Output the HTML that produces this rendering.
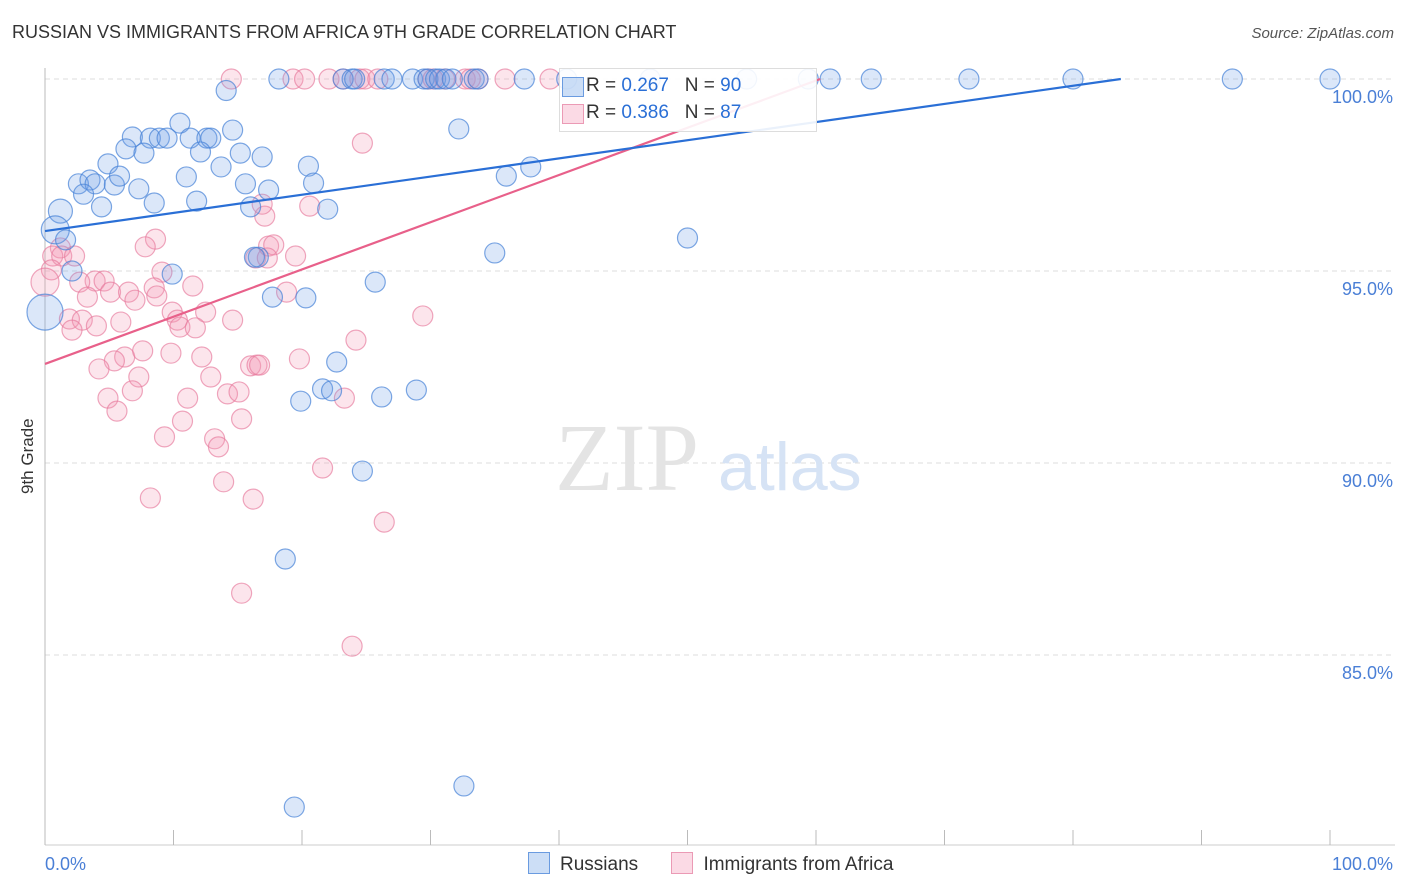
<!DOCTYPE html>
<html><head><meta charset="utf-8">
<style>
body{margin:0;background:#fff;font-family:"Liberation Sans",sans-serif;}
#wrap{position:relative;width:1406px;height:892px;overflow:hidden;}
.t{position:absolute;white-space:nowrap;}
</style></head>
<body>
<div id="wrap">
<div class="t" style="left:12px;top:22px;font-size:18px;color:#333;">RUSSIAN VS IMMIGRANTS FROM AFRICA 9TH GRADE CORRELATION CHART</div>
<div class="t" style="right:12px;top:25px;font-size:15px;color:#555;font-style:italic;">Source: ZipAtlas.com</div>
<div class="t" style="left:18px;font-size:17px;color:#333;transform:rotate(-90deg);transform-origin:left top;top:494px;">9th Grade</div>
<svg id="svg" width="1406" height="892" style="position:absolute;left:0;top:0"></svg>
</div>
<script>
const yTicks=[100,95,90,85];
const yTickLabels=["100.0%","95.0%","90.0%","85.0%"];
const blueX=[18.2,23.2,23.9,24.1,26.4,27.0,28.6,29.5,29.8,30.4,30.7,31.2,31.7,33.4,33.7,37.3,40.6,47.1,54.6,59.4,61.1,64.3,71.9,80.0,92.4,100,14.1,
10.5,6.8,8.2,8.9,9.5,11.3,12.6,12.9,14.6,6.3,7.7,12.1,15.2,16.9,4.9,13.7,20.5,32.2,2.6,3.5,3.9,5.4,5.8,7.3,11.0,15.6,17.4,20.9,3.0,4.4,8.5,11.8,16.0,22.0,35.9,37.8,1.2,0.8,1.6,2.1,9.9,16.6,16.3,35.0,50.0,25.7,17.7,20.3,0,22.7,21.6,22.3,19.9,26.2,28.9,24.7,18.7,19.4,32.6];
const blueY=[100,100,100,100,100,100,100,100,100,100,100,100,100,100,100,100,100,100,100,100,100,100,100,100,100,100,99.7,
98.85,98.49,98.46,98.46,98.46,98.46,98.46,98.46,98.67,98.18,98.07,98.10,98.07,97.97,97.79,97.71,97.73,98.70,97.27,97.37,97.27,97.24,97.47,97.14,97.45,97.27,97.11,97.29,97.0,96.67,96.77,96.82,96.67,96.61,97.47,97.71,96.56,96.07,95.81,95.0,94.92,95.36,95.36,95.47,95.86,94.71,94.32,94.30,93.93,92.63,91.93,91.88,91.61,91.72,91.90,89.79,87.5,81.04,81.59];
const pinkX=[14.5,19.3,20.2,22.1,23.2,24.5,24.9,25.9,29.8,30.2,31.1,32.7,33.1,33.7,35.8,39.3,24.7,
17.1,16.9,20.6,8.6,7.8,1.2,0.6,1.3,2.3,0.5,0,9.1,3.9,2.7,4.6,3.3,5.1,6.5,7.0,8.5,8.7,11.5,9.9,10.3,12.5,14.6,16.4,17.4,17.8,19.5,18.8,17.3,29.4,1.9,2.9,4.0,2.1,5.9,10.5,11.7,24.2,6.2,5.4,7.6,9.8,12.2,16.0,16.5,4.2,7.3,12.9,19.8,6.8,4.9,11.1,14.2,15.1,5.6,10.7,15.3,9.3,13.2,13.5,8.2,13.9,16.2,21.6,26.4,15.3,23.9,23.3,16.7];
const pinkY=[100,100,100,100,100,100,100,100,100,100,100,100,100,100,100,100,98.33,
96.43,96.74,96.69,95.83,95.63,95.6,95.39,95.39,95.39,95.03,94.71,94.97,94.74,94.71,94.74,94.32,94.45,94.45,94.24,94.56,94.35,94.61,93.93,93.72,93.93,93.72,95.34,95.65,95.68,95.39,94.45,95.34,93.83,93.75,93.72,93.57,93.46,93.67,93.54,93.52,93.2,92.76,92.66,92.92,92.86,92.76,92.53,92.55,92.45,92.24,92.24,92.71,91.88,91.69,91.69,91.8,91.85,91.35,91.09,91.15,90.68,90.63,90.42,89.09,89.51,89.06,89.87,88.46,86.61,85.23,91.69,92.55];
const blueTrend=[96.04,0.0473];
const pinkTrend=[92.58,0.123];

const NS="http://www.w3.org/2000/svg";
const svg=document.getElementById('svg');
const X0=45,X1=1330,Y100=79,PX5=192;
const xs=v=>X0+v/100*(X1-X0);
const ys=v=>Y100+(100-v)*PX5/5;
function mk(tag,attrs){const e=document.createElementNS(NS,tag);for(const k in attrs)e.setAttribute(k,attrs[k]);svg.appendChild(e);return e;}
yTicks.forEach((t,i)=>{
 const g=mk('line',{x1:X0,x2:1395,y1:ys(t),y2:ys(t),stroke:'#ddd','stroke-dasharray':'5,4'});
 
 
 const tx=mk('text',{x:1393,y:ys(t)+24,'text-anchor':'end','font-size':18,fill:'#4a7fd6','font-family':'Liberation Sans'});
 tx.textContent=yTickLabels[i];
 
 
});
const ya=mk('line',{x1:X0,x2:X0,y1:68,y2:845,stroke:'#bbb'});


const xa=mk('line',{x1:X0,x2:1395,y1:845,y2:845,stroke:'#ccc'});


for(let i=0;i<=10;i++){
 const tk=mk('line',{x1:xs(i*10),x2:xs(i*10),y1:830,y2:845,stroke:'#bbb'});
 
 
}
const xl0=mk('text',{x:45,y:870,'font-size':18,fill:'#4a7fd6','font-family':'Liberation Sans'});xl0.textContent='0.0%';


const xl1=mk('text',{x:1393,y:870,'text-anchor':'end','font-size':18,fill:'#4a7fd6','font-family':'Liberation Sans'});xl1.textContent='100.0%';


const wm=mk('text',{x:555,y:490,'font-size':96,fill:'#e4e4e4','font-family':'Liberation Serif'});wm.textContent='ZIP';


const wm2=mk('text',{x:718,y:490,'font-size':68,fill:'#d6e3f5','font-family':'Liberation Sans'});wm2.textContent='atlas';


pinkX.forEach((x,i)=>{
 const c=mk('circle',{cx:xs(x),cy:ys(pinkY[i]),r:(x===0?14:10),fill:'rgba(244,150,180,0.25)',stroke:'rgba(230,120,155,0.65)','stroke-width':1.2});
 
 
});
blueX.forEach((x,i)=>{
 let r=10; if(x===0)r=18; else if(x===1.2&&blueY[i]>96.5)r=12; else if(x===0.8)r=14;
 const c=mk('circle',{cx:xs(x),cy:ys(blueY[i]),r:r,fill:'rgba(110,160,230,0.25)',stroke:'rgba(70,130,215,0.7)','stroke-width':1.2});
 
 
});
function trend(p,color,name){
 const xEnd=Math.min(100,(100-p[0])/p[1]);
 const l=mk('line',{x1:xs(0),y1:ys(p[0]),x2:xs(xEnd),y2:ys(p[0]+p[1]*xEnd),stroke:color,'stroke-width':2.2});
 
 
}
trend(pinkTrend,'#e8608a','trendline-immigrants-africa');
trend(blueTrend,'#2a6fd6','trendline-russians');
</script>
<div style="position:absolute;left:559px;top:68px;width:256px;height:62px;border:1px solid #ddd;background:rgba(255,255,255,0.9);font-size:19px;color:#333;">
 <div style="position:absolute;left:26px;top:6px;white-space:nowrap;"><span style="position:absolute;left:-24px;top:2px;width:20px;height:18px;background:rgba(110,160,230,0.35);border:1px solid #6a9be0;"></span>R = <span style="color:#2a6fd6">0.267</span>&nbsp;&nbsp;&nbsp;N = <span style="color:#2a6fd6">90</span></div>
 <div style="position:absolute;left:26px;top:33px;white-space:nowrap;"><span style="position:absolute;left:-24px;top:2px;width:20px;height:18px;background:rgba(244,150,180,0.35);border:1px solid #eb9ab5;"></span>R = <span style="color:#2a6fd6">0.386</span>&nbsp;&nbsp;&nbsp;N = <span style="color:#2a6fd6">87</span></div>
</div>
<div style="position:absolute;left:528px;top:852px;font-size:19px;color:#333;white-space:nowrap;">
 <span><span style="display:inline-block;width:20px;height:20px;background:rgba(110,160,230,0.35);border:1px solid #6a9be0;vertical-align:-4px;margin-right:10px;"></span>Russians</span>
 <span style="margin-left:28px;"><span style="display:inline-block;width:20px;height:20px;background:rgba(244,150,180,0.35);border:1px solid #eb9ab5;vertical-align:-4px;margin-right:10px;"></span>Immigrants from Africa</span>
</div>
</body></html>
